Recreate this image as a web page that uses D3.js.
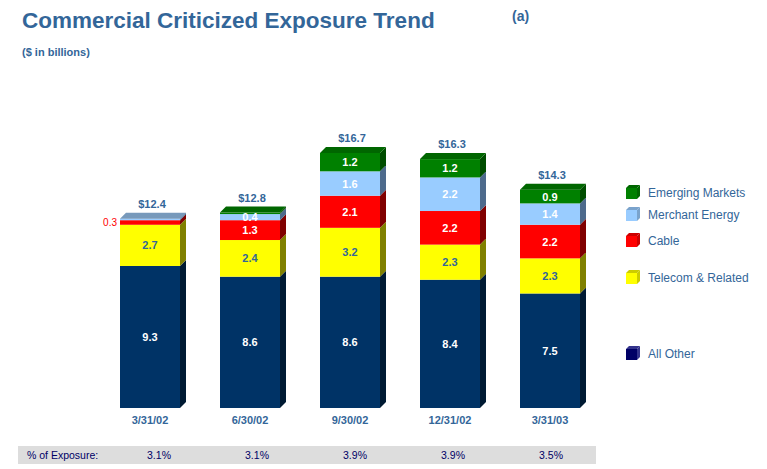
<!DOCTYPE html>
<html><head><meta charset="utf-8">
<script src="https://cdn.jsdelivr.net/npm/d3@7"></script>
<style>body{margin:0;background:#fff;} svg{display:block;font-family:Arial,"Liberation Sans",sans-serif;}</style>
</head><body><svg id="c" width="767" height="469"></svg>
<script>
const categories = ["3/31/02","6/30/02","9/30/02","12/31/02","3/31/03"];
const allOther   = [9.3, 8.6, 8.6, 8.4, 7.5];
const telecom    = [2.7, 2.4, 3.2, 2.3, 2.3];
const cable      = [0.3, 1.3, 2.1, 2.2, 2.2];
const merchant   = [0.1, 0.4, 1.6, 2.2, 1.4];
const emerging   = [0.0, 0.1, 1.2, 1.2, 0.9];
const totals     = ["$12.4","$12.8","$16.7","$16.3","$14.3"];
const pctExposure = ["3.1%","3.1%","3.9%","3.9%","3.5%"];

const series = [
  {name:"All Other", vals:allOther, front:"#003366", side:"#001a33", top:"#1a4d80", text:"#ffffff", lg:"#000066", lgSide:"#33338c"},
  {name:"Telecom & Related", vals:telecom, front:"#ffff00", side:"#808000", top:"#cccc00", text:"#336699", lg:"#ffff00", lgSide:"#cccc00"},
  {name:"Cable", vals:cable, front:"#ff0000", side:"#800000", top:"#cc0000", text:"#ffffff", lg:"#ff0000", lgSide:"#cc0000"},
  {name:"Merchant Energy", vals:merchant, front:"#99ccff", side:"#4d6a8c", top:"#7799bb", text:"#ffffff", lg:"#99ccff", lgSide:"#7aa3cc"},
  {name:"Emerging Markets", vals:emerging, front:"#008000", side:"#004d00", top:"#006600", text:"#ffffff", lg:"#008000", lgSide:"#006600"}
];

const svg = d3.select("#c");
const blue = "#336699";
const depth = 6;

svg.append("text").attr("x",22).attr("y",28).attr("fill",blue)
  .attr("font-size",22.5).attr("font-weight","bold").text("Commercial Criticized Exposure Trend");
svg.append("text").attr("x",512).attr("y",21).attr("fill",blue)
  .attr("font-size",14).attr("font-weight","bold").text("(a)");
svg.append("text").attr("x",22).attr("y",56).attr("fill",blue)
  .attr("font-size",11).attr("font-weight","bold").text("($ in billions)");

const x = d3.scaleBand().domain(categories).range([100,600]).paddingInner(0.4).paddingOuter(0.2);
const y = d3.scaleLinear().domain([0,20]).range([408, 102.6]);

categories.forEach((c,i)=>{
  const x0 = x(c), w = x.bandwidth();
  let cum = 0;
  let lastTop = null, lastSeries = null;
  const g = svg.append("g");
  series.forEach((s,si)=>{
    const v = s.vals[i];
    if (v <= 0) return;
    const yb = y(cum), yt = y(cum+v);
    cum += v;
    g.append("rect").attr("x",x0).attr("y",yt).attr("width",w).attr("height",yb-yt).attr("fill",s.front);
    g.append("polygon").attr("points",
      [[x0+w,yt],[x0+w+depth,yt-depth],[x0+w+depth,yb-depth],[x0+w,yb]].map(p=>p.join(",")).join(" "))
      .attr("fill",s.side);
    lastTop = yt; lastSeries = s;
  });
  g.append("polygon").attr("points",
    [[x0,lastTop],[x0+depth,lastTop-depth],[x0+w+depth,lastTop-depth],[x0+w,lastTop]].map(p=>p.join(",")).join(" "))
    .attr("fill",lastSeries.top);
  cum = 0;
  series.forEach((s,si)=>{
    const v = s.vals[i];
    if (v <= 0) { return; }
    const yb = y(cum), yt = y(cum+v);
    cum += v;
    if (v < 0.2) return;
    if (v < 0.35) {
      g.append("text").attr("x",x0-3).attr("y",(yb+yt)/2+3.5).attr("text-anchor","end")
        .attr("fill","#ff0000").attr("font-size",10).text(v.toFixed(1));
      return;
    }
    g.append("text").attr("x",x0+w/2).attr("y",(yb+yt)/2+4).attr("text-anchor","middle")
      .attr("fill",s.text).attr("font-size",11).attr("font-weight","bold").text(v.toFixed(1));
  });
  svg.append("text").attr("x",x0+w/2+2).attr("y",lastTop-11).attr("text-anchor","middle")
    .attr("fill",blue).attr("font-size",11).attr("font-weight","bold").text(totals[i]);
  svg.append("text").attr("x",x0+w/2).attr("y",424).attr("text-anchor","middle")
    .attr("fill",blue).attr("font-size",11).attr("font-weight","bold").text(c);
});

// legend
const legendY = {"Emerging Markets":192,"Merchant Energy":214,"Cable":240,"Telecom & Related":277,"All Other":353};
series.slice().reverse().forEach(s=>{
  const cy = legendY[s.name];
  const lx = 626, sz = 11, d = 3;
  svg.append("rect").attr("x",lx).attr("y",cy-sz/2+d/2).attr("width",sz).attr("height",sz).attr("fill",s.lg);
  svg.append("polygon").attr("points",
    [[lx,cy-sz/2+d/2],[lx+d,cy-sz/2-d/2],[lx+sz+d,cy-sz/2-d/2],[lx+sz,cy-sz/2+d/2]].map(p=>p.join(",")).join(" ")).attr("fill",s.lgSide);
  svg.append("polygon").attr("points",
    [[lx+sz,cy-sz/2+d/2],[lx+sz+d,cy-sz/2-d/2],[lx+sz+d,cy+sz/2-d/2],[lx+sz,cy+sz/2+d/2]].map(p=>p.join(",")).join(" ")).attr("fill",s.lgSide);
  svg.append("text").attr("x",648).attr("y",cy+4.5).attr("fill",blue).attr("font-size",12).text(s.name);
});

// bottom table
svg.append("rect").attr("x",18).attr("y",446).attr("width",578).attr("height",18).attr("fill","#dddddd");
svg.append("text").attr("x",27).attr("y",459).attr("fill","#000066").attr("font-size",10.5).text("% of Exposure:");
categories.forEach((c,i)=>{
  svg.append("text").attr("x",x(c)+x.bandwidth()/2+9 - i*2).attr("y",459).attr("text-anchor","middle")
    .attr("fill","#000066").attr("font-size",10.5).text(pctExposure[i]);
});
</script></body></html>
